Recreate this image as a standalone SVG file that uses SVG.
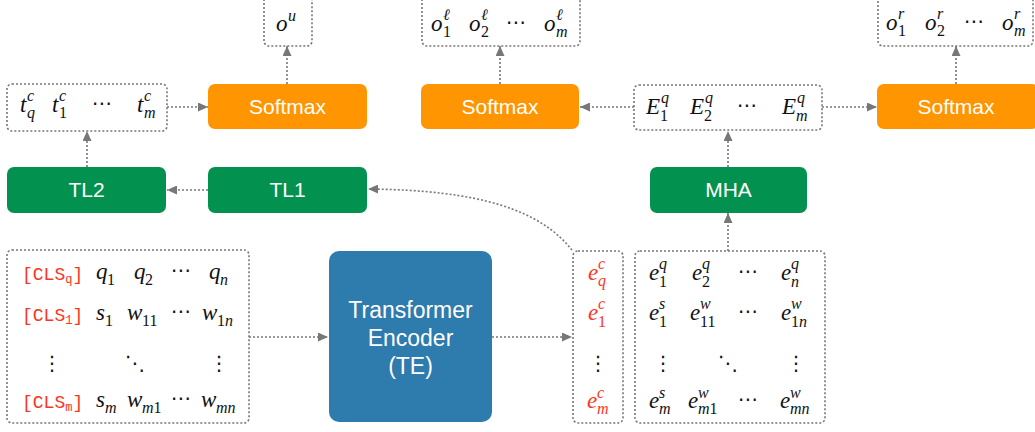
<svg xmlns="http://www.w3.org/2000/svg" width="1035" height="432" viewBox="0 0 1035 432">
<defs>
<marker id="arr" viewBox="0 0 10 9" refX="10" refY="4.5" markerWidth="10" markerHeight="9" markerUnits="userSpaceOnUse" orient="auto">
<path d="M0,0 L10,4.5 L0,9 z" fill="#777"/>
</marker>
<style>
.dbox{fill:#fff;stroke:#777;stroke-width:1.6;stroke-dasharray:2 2}
.conn path{fill:none;stroke:#777;stroke-width:1.6;stroke-dasharray:2 2;marker-end:url(#arr)}
.orange{fill:#FF9500}
.green{fill:#039150}
.blue{fill:#2E7BAD}
.lbl{font-family:"Liberation Sans",Arial,sans-serif;font-size:21px;fill:#fff;text-anchor:middle}
.te{font-size:23px}
.m{font-family:"Liberation Serif","Times New Roman",serif;font-style:italic;font-size:23px;fill:#111}
.m .s{font-size:16px}
.n{font-style:normal}
.red{fill:#FF3322}
.cls{font-family:"Liberation Mono","DejaVu Sans Mono",monospace;font-size:18px;fill:#FF3322}
.cls .s{font-size:12px}
.dots{font-family:"DejaVu Sans",sans-serif;font-size:20px;fill:#111;text-anchor:middle;font-style:normal}
</style>
</defs>

<g id="connectors" class="conn">
<path d="M249,337 H328"/>
<path d="M492,337 H572"/>
<path d="M572,250 C540,210 480,190 368,189"/>
<path d="M728,251 V213"/>
<path d="M728,167 V131"/>
<path d="M634,107 H580"/>
<path d="M822,107 H877"/>
<path d="M500,84 V46"/>
<path d="M956,84 V46"/>
<path d="M208,190 H167"/>
<path d="M87,167 V131"/>
<path d="M167,107 H208"/>
<path d="M287,84 V46"/>
</g>

<g id="input">
<rect class="dbox" x="7" y="250" width="242" height="173" rx="5"/>
<text class="cls" x="22" y="280">[CLS<tspan class="s" dy="3">q</tspan><tspan dy="-3">]</tspan></text>
<text class="cls" x="22" y="321">[CLS<tspan class="s" dy="3">1</tspan><tspan dy="-3">]</tspan></text>
<text class="cls" x="22" y="408">[CLS<tspan class="s" dy="3">m</tspan><tspan dy="-3">]</tspan></text>
<text class="m" x="96" y="279">q<tspan class="s n" x="107" y="285">1</tspan></text>
<text class="m" x="134" y="279">q<tspan class="s n" x="145" y="285">2</tspan></text>
<text class="dots" x="181" y="277">⋯</text>
<text class="m" x="209" y="279">q<tspan class="s" x="220" y="285">n</tspan></text>
<text class="m" x="96" y="320">s<tspan class="s n" x="105" y="326">1</tspan></text>
<text class="m" x="127" y="320">w<tspan class="s n" x="142" y="326">11</tspan></text>
<text class="dots" x="181" y="318">⋯</text>
<text class="m" x="202" y="320">w<tspan class="s n" x="217" y="326">1</tspan><tspan class="s">n</tspan></text>
<text class="dots" x="52" y="370">⋮</text>
<text class="dots" x="135" y="370">⋱</text>
<text class="dots" x="219" y="370">⋮</text>
<text class="m" x="96" y="407">s<tspan class="s" x="105" y="413">m</tspan></text>
<text class="m" x="127" y="407">w<tspan class="s" x="142" y="413">m</tspan><tspan class="s n">1</tspan></text>
<text class="dots" x="181" y="405">⋯</text>
<text class="m" x="201" y="407">w<tspan class="s" x="216" y="413">mn</tspan></text>
</g>

<g id="te">
<rect class="blue" x="329" y="251" width="163" height="171" rx="10"/>
<text class="lbl te" x="410.5" y="318">Transformer</text>
<text class="lbl te" x="410.5" y="346">Encoder</text>
<text class="lbl te" x="410.5" y="374">(TE)</text>
</g>

<g id="cls-emb">
<rect class="dbox" x="573" y="251" width="50" height="172" rx="5"/>
<text class="m red" x="588" y="280">e<tspan class="s" x="598" y="269">c</tspan><tspan class="s" x="598" y="286">q</tspan></text>
<text class="m red" x="588" y="320">e<tspan class="s" x="598" y="309">c</tspan><tspan class="s n" x="598" y="327">1</tspan></text>
<text class="dots" x="598" y="370">⋮</text>
<text class="m red" x="587" y="408">e<tspan class="s" x="597" y="398">c</tspan><tspan class="s" x="597" y="414">m</tspan></text>
</g>

<g id="tok-emb">
<rect class="dbox" x="635" y="251" width="190" height="172" rx="5"/>
<text class="m" x="649" y="280">e<tspan class="s" x="659" y="269">q</tspan><tspan class="s n" x="659" y="287">1</tspan></text>
<text class="m" x="692" y="280">e<tspan class="s" x="702" y="269">q</tspan><tspan class="s n" x="702" y="287">2</tspan></text>
<text class="dots" x="748" y="278">⋯</text>
<text class="m" x="781" y="280">e<tspan class="s" x="791" y="269">q</tspan><tspan class="s" x="791" y="287">n</tspan></text>
<text class="m" x="649" y="320">e<tspan class="s" x="659" y="309">s</tspan><tspan class="s n" x="659" y="327">1</tspan></text>
<text class="m" x="690" y="320">e<tspan class="s" x="700" y="309">w</tspan><tspan class="s n" x="700" y="327">11</tspan></text>
<text class="dots" x="748" y="318">⋯</text>
<text class="m" x="781" y="320">e<tspan class="s" x="791" y="309">w</tspan><tspan class="s n" x="791" y="327">1</tspan><tspan class="s">n</tspan></text>
<text class="dots" x="663" y="370">⋮</text>
<text class="dots" x="728" y="370">⋱</text>
<text class="dots" x="796" y="370">⋮</text>
<text class="m" x="649" y="408">e<tspan class="s" x="659" y="398">s</tspan><tspan class="s" x="659" y="414">m</tspan></text>
<text class="m" x="688" y="408">e<tspan class="s" x="698" y="398">w</tspan><tspan class="s" x="698" y="414">m</tspan><tspan class="s n">1</tspan></text>
<text class="dots" x="748" y="406">⋯</text>
<text class="m" x="780" y="408">e<tspan class="s" x="790" y="398">w</tspan><tspan class="s" x="790" y="414">mn</tspan></text>
</g>

<g id="mha">
<rect class="green" x="650" y="167" width="157" height="46" rx="7"/>
<text class="lbl" x="728.5" y="197">MHA</text>
</g>

<g id="E-box">
<rect class="dbox" x="634" y="85" width="188" height="45" rx="5"/>
<text class="m" x="646" y="114">E<tspan class="s" x="661" y="103">q</tspan><tspan class="s n" x="660" y="121">1</tspan></text>
<text class="m" x="690" y="114">E<tspan class="s" x="705" y="103">q</tspan><tspan class="s n" x="704" y="121">2</tspan></text>
<text class="dots" x="747" y="112">⋯</text>
<text class="m" x="782" y="114">E<tspan class="s" x="797" y="103">q</tspan><tspan class="s" x="796" y="121">m</tspan></text>
</g>

<g id="softmax-mid">
<rect class="orange" x="421" y="84" width="158" height="45" rx="7"/>
<text class="lbl" x="500" y="114">Softmax</text>
</g>

<g id="softmax-right">
<rect class="orange" x="877" y="84" width="162" height="45" rx="7"/>
<text class="lbl" x="956" y="114">Softmax</text>
</g>

<g id="ol-box">
<rect class="dbox" x="422" y="-5" width="158" height="51" rx="5"/>
<text class="m" x="431" y="31">o<tspan class="s" x="443" y="20">ℓ</tspan><tspan class="s n" x="443" y="37">1</tspan></text>
<text class="m" x="469" y="31">o<tspan class="s" x="481" y="20">ℓ</tspan><tspan class="s n" x="481" y="37">2</tspan></text>
<text class="dots" x="516" y="29">⋯</text>
<text class="m" x="544" y="31">o<tspan class="s" x="556" y="20">ℓ</tspan><tspan class="s" x="556" y="37">m</tspan></text>
</g>

<g id="or-box">
<rect class="dbox" x="878" y="-5" width="155" height="51" rx="5"/>
<text class="m" x="886" y="30">o<tspan class="s" x="898" y="19">r</tspan><tspan class="s n" x="898" y="36">1</tspan></text>
<text class="m" x="925" y="30">o<tspan class="s" x="937" y="19">r</tspan><tspan class="s n" x="937" y="36">2</tspan></text>
<text class="dots" x="974" y="28">⋯</text>
<text class="m" x="1002" y="30">o<tspan class="s" x="1014" y="19">r</tspan><tspan class="s" x="1014" y="36">m</tspan></text>
</g>

<g id="ou-box">
<rect class="dbox" x="264" y="-5" width="48" height="51" rx="5"/>
<text class="m" x="276" y="31">o<tspan class="s" x="288" y="21">u</tspan></text>
</g>

<g id="softmax-left">
<rect class="orange" x="208" y="84" width="159" height="45" rx="7"/>
<text class="lbl" x="287.5" y="114">Softmax</text>
</g>

<g id="t-box">
<rect class="dbox" x="7" y="84" width="160" height="47" rx="5"/>
<text class="m" x="20" y="112">t<tspan class="s" x="27" y="101">c</tspan><tspan class="s" x="27" y="118">q</tspan></text>
<text class="m" x="52" y="112">t<tspan class="s" x="59" y="101">c</tspan><tspan class="s n" x="59" y="118">1</tspan></text>
<text class="dots" x="102" y="110">⋯</text>
<text class="m" x="137" y="112">t<tspan class="s" x="144" y="101">c</tspan><tspan class="s" x="144" y="118">m</tspan></text>
</g>

<g id="tl2">
<rect class="green" x="7" y="167" width="159" height="46" rx="7"/>
<text class="lbl" x="86.5" y="197">TL2</text>
</g>

<g id="tl1">
<rect class="green" x="208" y="167" width="159" height="46" rx="7"/>
<text class="lbl" x="287.5" y="197">TL1</text>
</g>
</svg>
